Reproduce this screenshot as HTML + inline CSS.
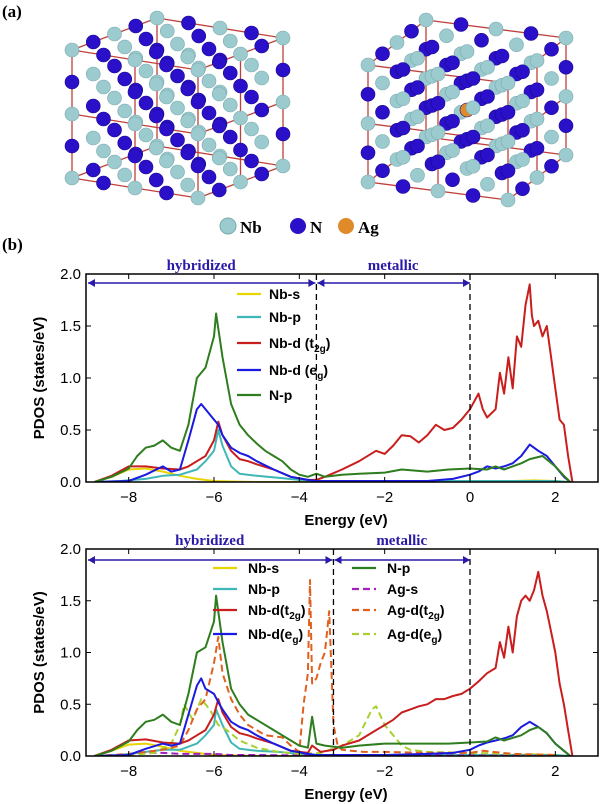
<!DOCTYPE html>
<html><head><meta charset="utf-8">
<style>
html,body{margin:0;padding:0;background:#fff;}
svg{display:block;font-family:"Liberation Sans",sans-serif;}
.lab{font-family:"Liberation Serif",serif;font-weight:bold;}
</style></head>
<body>
<svg id="fig" width="600" height="804" viewBox="0 0 600 804">
<text x="2" y="17" class="lab" font-size="17">(a)</text>
<text x="2" y="250" class="lab" font-size="17">(b)</text>
<g id="xtal1"></g>
<g id="xtal2"></g>
<g>
<circle cx="228" cy="226" r="8" fill="#9ccbcf" stroke="#7aa"/>
<text x="240" y="233" class="lab" font-size="17">Nb</text>
<circle cx="298" cy="226" r="8" fill="#2a10c8"/>
<text x="310" y="233" class="lab" font-size="17">N</text>
<circle cx="346" cy="226" r="8" fill="#e08a2a"/>
<text x="358" y="233" class="lab" font-size="17">Ag</text>
</g>
<g id="chart1"></g>
<g id="chart2"></g>
</svg>
<script>
// ---- chart data (top: pure NbN) ----
const t_nbs_x=[-8.8,-8.4,-8,-7.6,-7.2,-6.8,-6.4,-6,-5.6,-5,-4,-3,0,1,1.5,2,2.3];
const t_nbs_y=[0,0.05,0.12,0.13,0.1,0.06,0.03,0.01,0.005,0,0,0,0.005,0.01,0.015,0.01,0];
const t_nbp_x=[-8.8,-8.2,-7.6,-7.2,-6.8,-6.4,-6.2,-6.0,-5.9,-5.8,-5.6,-5.4,-5.0,-4.5,-4,-3.6,-3,0,2,2.3];
const t_nbp_y=[0,0.01,0.03,0.06,0.07,0.12,0.2,0.3,0.5,0.35,0.15,0.08,0.06,0.04,0.02,0.01,0.01,0.01,0.01,0];
const t_t2g_x=[-8.8,-8.4,-8,-7.6,-7.2,-6.8,-6.6,-6.4,-6.2,-6.0,-5.9,-5.8,-5.6,-5.4,-5.2,-5,-4.6,-4.2,-3.8,-3.6,-3.4,-3.0,-2.6,-2.2,-2,-1.8,-1.6,-1.4,-1.2,-1.0,-0.8,-0.6,-0.4,-0.2,0,0.2,0.3,0.4,0.6,0.7,0.8,0.9,1.0,1.1,1.2,1.3,1.4,1.45,1.5,1.6,1.7,1.8,1.9,2.0,2.1,2.2,2.3,2.4];
const t_t2g_y=[0,0.06,0.15,0.15,0.13,0.12,0.15,0.2,0.25,0.4,0.58,0.45,0.3,0.22,0.2,0.17,0.12,0.05,0.02,0.02,0.05,0.12,0.2,0.3,0.27,0.35,0.45,0.44,0.38,0.45,0.55,0.5,0.52,0.6,0.7,0.85,0.7,0.62,0.7,1.05,0.85,1.2,0.9,1.4,1.3,1.7,1.9,1.6,1.5,1.55,1.4,1.5,1.2,0.9,0.6,0.55,0.25,0];
const t_eg_x=[-8.8,-8,-7.6,-7.2,-7,-6.8,-6.6,-6.4,-6.3,-6.2,-6.0,-5.9,-5.8,-5.6,-5.4,-5.2,-5,-4.6,-4.2,-3.8,-3.6,-3,-2,-1,-0.4,0,0.2,0.4,0.6,0.8,1.0,1.2,1.4,1.6,1.8,2.0,2.2,2.35];
const t_eg_y=[0,0.01,0.07,0.15,0.1,0.12,0.4,0.7,0.75,0.7,0.6,0.55,0.45,0.33,0.28,0.25,0.2,0.12,0.05,0.02,0.01,0.01,0.01,0.01,0.03,0.07,0.1,0.15,0.13,0.15,0.18,0.25,0.36,0.3,0.25,0.15,0.05,0];
const t_np_x=[-8.8,-8.4,-8.0,-7.8,-7.6,-7.4,-7.2,-7.0,-6.8,-6.6,-6.4,-6.2,-6.0,-5.95,-5.8,-5.6,-5.4,-5.2,-5.0,-4.8,-4.6,-4.4,-4.2,-4.0,-3.8,-3.6,-3.4,-3.0,-2.6,-2.0,-1.6,-1.0,-0.5,0,0.4,0.6,0.8,1.2,1.4,1.7,2.0,2.2,2.35];
const t_np_y=[0,0.05,0.13,0.25,0.33,0.35,0.4,0.33,0.3,0.55,1.0,1.1,1.4,1.62,1.2,0.75,0.55,0.45,0.37,0.3,0.25,0.2,0.12,0.07,0.05,0.08,0.05,0.07,0.08,0.09,0.12,0.1,0.12,0.13,0.12,0.15,0.12,0.18,0.22,0.25,0.15,0.06,0];
// ---- chart data (bottom: Ag doped) ----
const b_nbs_x=[-8.8,-8.4,-8,-7.6,-7.2,-6.8,-6.4,-6,-5.6,-5,-4,-3,0,1,1.5,2,2.3];
const b_nbs_y=[0,0.05,0.11,0.12,0.09,0.05,0.03,0.01,0.005,0,0,0,0.005,0.01,0.015,0.01,0];
const b_nbp_x=[-8.8,-8.2,-7.6,-7.2,-6.8,-6.4,-6.2,-6.0,-5.95,-5.8,-5.6,-5.4,-5.0,-4.5,-4,-3.6,-3,0,2,2.3];
const b_nbp_y=[0,0.01,0.04,0.06,0.06,0.12,0.2,0.3,0.45,0.3,0.13,0.07,0.05,0.04,0.02,0.01,0.01,0.01,0.01,0];
const b_t2g_x=[-8.8,-8.4,-8,-7.6,-7.2,-6.8,-6.6,-6.4,-6.2,-6.0,-5.9,-5.8,-5.6,-5.4,-5.2,-5,-4.6,-4.2,-3.8,-3.7,-3.5,-3.2,-3.0,-2.6,-2.2,-2,-1.8,-1.6,-1.4,-1.2,-1.0,-0.8,-0.6,-0.4,-0.2,0,0.2,0.4,0.6,0.7,0.8,0.9,1.0,1.1,1.2,1.3,1.4,1.5,1.6,1.7,1.8,1.9,2.0,2.1,2.2,2.3,2.4];
const b_t2g_y=[0,0.06,0.15,0.16,0.13,0.12,0.15,0.2,0.25,0.4,0.55,0.42,0.28,0.22,0.2,0.17,0.12,0.05,0.03,0.1,0.04,0.06,0.1,0.15,0.25,0.3,0.35,0.42,0.45,0.48,0.5,0.55,0.55,0.58,0.6,0.65,0.72,0.8,0.85,1.1,0.95,1.25,1.0,1.35,1.5,1.55,1.5,1.6,1.78,1.55,1.4,1.2,1.0,0.7,0.5,0.25,0];
const b_eg_x=[-8.8,-8,-7.6,-7.2,-7,-6.8,-6.6,-6.4,-6.3,-6.2,-6.0,-5.9,-5.8,-5.6,-5.4,-5.2,-5,-4.6,-4.2,-3.8,-3.6,-3,-2,-1,-0.4,0,0.2,0.4,0.6,0.8,1.0,1.2,1.4,1.6,1.8,2.0,2.2,2.35];
const b_eg_y=[0,0.01,0.07,0.12,0.1,0.12,0.4,0.68,0.75,0.65,0.6,0.52,0.45,0.33,0.28,0.25,0.2,0.12,0.05,0.02,0.01,0.01,0.01,0.02,0.03,0.06,0.1,0.13,0.15,0.17,0.2,0.28,0.33,0.28,0.22,0.12,0.05,0];
const b_np_x=[-8.8,-8.4,-8.0,-7.8,-7.6,-7.4,-7.2,-7.0,-6.8,-6.6,-6.4,-6.2,-6.0,-5.95,-5.8,-5.6,-5.4,-5.2,-5.0,-4.6,-4.2,-4.0,-3.8,-3.7,-3.6,-3.4,-3.0,-2.6,-2.0,-1.6,-1.0,-0.5,0,0.4,0.6,0.8,1.2,1.4,1.6,1.8,2.0,2.2,2.35];
const b_np_y=[0,0.05,0.14,0.25,0.33,0.35,0.4,0.33,0.3,0.6,1.0,1.05,1.3,1.55,1.1,0.65,0.5,0.4,0.35,0.25,0.15,0.1,0.08,0.38,0.12,0.1,0.08,0.1,0.12,0.12,0.12,0.12,0.13,0.14,0.18,0.15,0.2,0.25,0.28,0.22,0.12,0.05,0];
const b_ags_x=[-8.8,-8,-7.6,-7.2,-6.8,-6.4,-6,-5.6,-5,-4,0,2];
const b_ags_y=[0,0.01,0.03,0.03,0.02,0.02,0.02,0.01,0.01,0.005,0.005,0];
const b_agt_x=[-8.8,-8,-7.6,-7.2,-6.8,-6.6,-6.4,-6.2,-6.0,-5.9,-5.8,-5.6,-5.4,-5.2,-5.0,-4.8,-4.4,-4.2,-4.0,-3.9,-3.8,-3.75,-3.7,-3.6,-3.5,-3.4,-3.3,-3.2,-3.1,-3.0,-2.5,-2,-1,0,0.3,1,2];
const b_agt_y=[0,0.02,0.04,0.06,0.1,0.25,0.45,0.55,0.9,1.15,0.8,0.55,0.4,0.3,0.25,0.2,0.18,0.1,0.04,0.5,0.8,1.7,0.7,0.75,0.9,1.0,1.4,0.3,0.1,0.06,0.04,0.04,0.03,0.03,0.05,0.02,0.01];
const b_age_x=[-8.8,-8,-7.4,-7.0,-6.8,-6.7,-6.5,-6.3,-6.1,-5.9,-5.7,-5.4,-5,-4.5,-4,-3.5,-3,-2.6,-2.3,-2.2,-2.0,-1.8,-1.6,-1.4,-1,0,1,2];
const b_age_y=[0,0.01,0.03,0.12,0.3,0.5,0.35,0.55,0.45,0.3,0.25,0.15,0.08,0.04,0.02,0.03,0.1,0.2,0.45,0.48,0.3,0.2,0.1,0.06,0.04,0.03,0.02,0];
const xTicks=[-8,-6,-4,-2,0,2];
const xTickLabels=["\u22128","\u22126","\u22124","\u22122","0","2"];
const yTicks=[0,0.5,1.0,1.5,2.0];
const yTickLabels=["0.0","0.5","1.0","1.5","2.0"];

const NS="http://www.w3.org/2000/svg";
function mk(tag,attrs,parent){const e=document.createElementNS(NS,tag);for(const k in attrs)e.setAttribute(k,attrs[k]);parent.appendChild(e);return e;}

function chart(g,top,bot,sep,series,legend){
  const L=86,R=598;
  const sx=v=>L+(v+9)/12*(R-L);
  const sy=v=>bot-(v/2)*(bot-top);
  const clip=mk('clipPath',{id:'c'+top},g);
  mk('rect',{x:L,y:top,width:R-L,height:bot-top},clip);
  const sg=mk('g',{'clip-path':'url(#c'+top+')'},g);
  series.forEach(s=>{
    const d=s.x.map((v,i)=>(i?'L':'M')+sx(v).toFixed(1)+','+sy(s.y[i]).toFixed(1)).join('');
    const p=mk('path',{d:d,fill:'none',stroke:s.c,'stroke-width':2,'stroke-dasharray':s.dash||'none','stroke-linejoin':'round'},sg);
    
    
  });
  [sep,0].forEach(v=>{const l=mk('line',{x1:sx(v),x2:sx(v),y1:top,y2:bot,stroke:'#000','stroke-width':1.3,'stroke-dasharray':'6,4'},g);
    
    });
  const fr=mk('rect',{x:L,y:top,width:R-L,height:bot-top,fill:'none',stroke:'#000','stroke-width':1.5},g);
  
  
  xTicks.forEach((v,i)=>{
    mk('line',{x1:sx(v),x2:sx(v),y1:bot,y2:bot-5,stroke:'#000'},g);
    mk('line',{x1:sx(v),x2:sx(v),y1:top,y2:top+5,stroke:'#000'},g);
    const t=mk('text',{x:sx(v),y:bot+20,'font-size':15,'text-anchor':'middle'},g);t.textContent=xTickLabels[i];
    
    
  });
  yTicks.forEach((v,i)=>{
    mk('line',{x1:L,x2:L+5,y1:sy(v),y2:sy(v),stroke:'#000'},g);
    mk('line',{x1:R,x2:R-5,y1:sy(v),y2:sy(v),stroke:'#000'},g);
    const t=mk('text',{x:L-5,y:sy(v)+5,'font-size':15,'text-anchor':'end'},g);t.textContent=yTickLabels[i];
    
    
  });
  const yl=mk('text',{x:0,y:0,'font-size':15,'font-weight':'bold','text-anchor':'middle',transform:'translate(44,'+((top+bot)/2)+') rotate(-90)'},g);
  yl.textContent='PDOS (states/eV)';
  
  
  const xl=mk('text',{x:(L+R)/2+4,y:bot+43,'font-size':15,'font-weight':'bold','text-anchor':'middle'},g);
  xl.textContent='Energy (eV)';
  
  
  const ay=top+(top<400?9:11);
  const col='#2a1aa8';
  [[L+2,sx(sep)-1],[sx(sep)+1,sx(0)]].forEach(([a,b])=>{
    const ar=mk('g',{},g);
    
    
    mk('line',{x1:a,x2:b,y1:ay,y2:ay,stroke:col,'stroke-width':1.5},ar);
    mk('path',{d:`M${a},${ay}l7,-4v8z M${b},${ay}l-7,-4v8z`,fill:col},ar);
  });
  const h=mk('text',{x:(L+sx(sep))/2,y:top-4,'font-size':15,'text-anchor':'middle',fill:col,class:'lab'},g);h.textContent='hybridized';
  
  
  const m=mk('text',{x:(sx(sep)+sx(0))/2,y:top-4,'font-size':15,'text-anchor':'middle',fill:col,class:'lab'},g);m.textContent='metallic';
  
  
  legend.forEach(e=>{
    const lg=mk('g',{},g);
    
    
    mk('line',{x1:e.x,x2:e.x+24,y1:e.y,y2:e.y,stroke:e.c,'stroke-width':2.2,'stroke-dasharray':e.dash||'none'},lg);
    const t=mk('text',{x:e.x+(e.tx||32),y:e.y+5,'font-size':14,'font-weight':'bold'},lg);
    t.innerHTML=e.label;
  });
}
const Y='#e8d400',C='#3fb7b7',Rd='#c81e1e',B='#1a1ae0',G='#2e7d1e',P='#a020c0',O='#e06020',LG='#a8d030';
chart(document.getElementById('chart1'),274,482,-3.6,[
 {name:'nb-s',x:t_nbs_x,y:t_nbs_y,c:Y},{name:'nb-p',x:t_nbp_x,y:t_nbp_y,c:C},
 {name:'nb-d-t2g',x:t_t2g_x,y:t_t2g_y,c:Rd},{name:'nb-d-eg',x:t_eg_x,y:t_eg_y,c:B},
 {name:'n-p',x:t_np_x,y:t_np_y,c:G}],
 [{x:237,y:294,c:Y,label:'Nb-s'},{x:237,y:317,c:C,label:'Nb-p'},
  {x:237,y:343,c:Rd,label:'Nb-d (t<tspan font-size="10" dy="4">2g</tspan><tspan dy="-4">)</tspan>'},
  {x:237,y:370,c:B,label:'Nb-d (e<tspan font-size="10" dy="4">g</tspan><tspan dy="-4">)</tspan>'},
  {x:237,y:395,c:G,label:'N-p'}]);
chart(document.getElementById('chart2'),549,756,-3.2,[
 {name:'nb-s',x:b_nbs_x,y:b_nbs_y,c:Y},{name:'nb-p',x:b_nbp_x,y:b_nbp_y,c:C},
 {name:'ag-s',x:b_ags_x,y:b_ags_y,c:P,dash:'7,4'},
 {name:'ag-d-eg',x:b_age_x,y:b_age_y,c:LG,dash:'7,4'},
 {name:'ag-d-t2g',x:b_agt_x,y:b_agt_y,c:O,dash:'7,4'},
 {name:'nb-d-t2g',x:b_t2g_x,y:b_t2g_y,c:Rd},{name:'nb-d-eg',x:b_eg_x,y:b_eg_y,c:B},
 {name:'n-p',x:b_np_x,y:b_np_y,c:G}],
 [{x:213,y:568,c:Y,label:'Nb-s',tx:35},{x:213,y:589,c:C,label:'Nb-p',tx:35},
  {x:213,y:610,c:Rd,label:'Nb-d(t<tspan font-size="10" dy="4">2g</tspan><tspan dy="-4">)</tspan>',tx:35},
  {x:213,y:634,c:B,label:'Nb-d(e<tspan font-size="10" dy="4">g</tspan><tspan dy="-4">)</tspan>',tx:35},
  {x:352,y:568,c:G,label:'N-p',tx:35},{x:352,y:589,c:P,dash:'7,4',label:'Ag-s',tx:35},
  {x:352,y:610,c:O,dash:'7,4',label:'Ag-d(t<tspan font-size="10" dy="4">2g</tspan><tspan dy="-4">)</tspan>',tx:35},
  {x:352,y:634,c:LG,dash:'7,4',label:'Ag-d(e<tspan font-size="10" dy="4">g</tspan><tspan dy="-4">)</tspan>',tx:35}]);

function crystal(g,O,a,b,c,ag){
  const P=(i,j,k)=>[O[0]+a[0]*i/4+b[0]*j/4+c[0]*k/4,O[1]+a[1]*i/4+b[1]*j/4+c[1]*k/4];
  const edges=[[[0,0,0],[4,0,0]],[[0,0,0],[0,4,0]],[[0,0,0],[0,0,4]],[[4,0,0],[4,4,0]],[[4,0,0],[4,0,4]],[[0,4,0],[4,4,0]],[[0,4,0],[0,4,4]],[[0,0,4],[4,0,4]],[[0,0,4],[0,4,4]],[[4,4,0],[4,4,4]],[[4,0,4],[4,4,4]],[[0,4,4],[4,4,4]],
    [[2,0,0],[2,0,4]],[[0,2,0],[0,2,4]],[[0,0,2],[4,0,2]],[[0,0,2],[0,4,2]]];
  edges.forEach(([p,q])=>{const A=P(...p),B2=P(...q);mk('line',{x1:A[0],y1:A[1],x2:B2[0],y2:B2[1],stroke:'#c0403a','stroke-width':1.3},g);});
  const atoms=[];
  for(let i=0;i<=4;i++)for(let j=0;j<=4;j++)for(let k=0;k<=4;k++)atoms.push([i,j,k]);
  atoms.sort((p,q)=>(q[0]+q[1])-(p[0]+p[1]));
  atoms.forEach(([i,j,k])=>{
    const [x,y]=P(i,j,k);
    let f=((i+j+k)%2==0)?'#9ccbcf':'#2a10c8';
    if(ag&&i==2&&j==2&&k==2)f='#e08a2a';
    mk('circle',{cx:x,cy:y,r:7,fill:f,stroke:f=='#9ccbcf'?'#7aa9ad':'#1a0890','stroke-width':0.6},g);
  });
}
crystal(document.getElementById('xtal1'),[198,198],[-126,-20],[85,-32],[0,-128],false);
crystal(document.getElementById('xtal2'),[508,200],[-140,-18],[58,-45],[0,-117],true);
</script>
</body></html>
